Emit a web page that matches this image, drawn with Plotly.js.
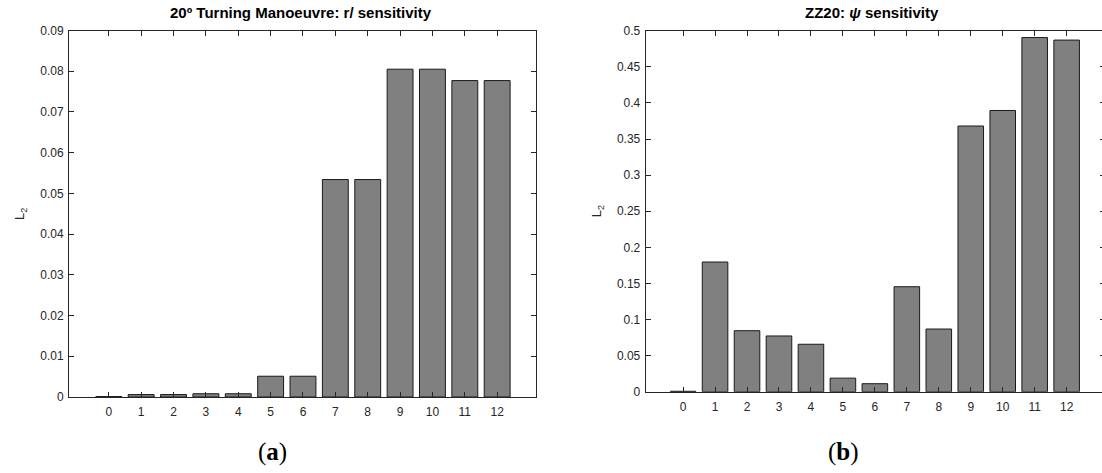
<!DOCTYPE html>
<html>
<head>
<meta charset="utf-8">
<script src="https://cdn.plot.ly/plotly-3.0.1.min.js"></script>
<style>
html,body{margin:0;padding:0;overflow:hidden;background:#fff;width:1102px;height:473px;}
#chart{width:1106px;height:473px;}
</style>
</head>
<body>
<div id="chart"></div>
<script>
// Data
const categories = [0,1,2,3,4,5,6,7,8,9,10,11,12];
const tickLabels = ['0','1','2','3','4','5','6','7','8','9','10','11','12'];
const turningValues = [0.0001,0.0006,0.0006,0.0008,0.0008,0.0051,0.0051,0.0534,0.0534,0.0805,0.0805,0.0777,0.0777];
const zigzagValues = [0.0006,0.1796,0.0845,0.0772,0.0657,0.0188,0.0111,0.1454,0.0868,0.368,0.3895,0.4905,0.487];
const titleA = '20º Turning Manoeuvre: r/ sensitivity';
const titleB = 'ZZ20: <i>ψ</i> sensitivity';
const yTitle = 'L<sub>2</sub>';

const W = 1106, H = 473;
const fx = px => px / W;
const fy = py => (H - py) / H;

const axisColor = '#262626';
const sans = 'Liberation Sans, Arial, sans-serif';
const tickFont = {family: sans, size: 12, color: '#262626'};

const barStyle = {
  type: 'bar',
  width: 0.8,
  marker: {color: '#808080', line: {color: '#1a1a1a', width: 1}},
  hoverinfo: 'x+y'
};

const traces = [
  Object.assign({}, barStyle, {x: categories, y: turningValues, xaxis: 'x', yaxis: 'y', name: 'a'}),
  Object.assign({}, barStyle, {x: categories, y: zigzagValues, xaxis: 'x2', yaxis: 'y2', name: 'b'})
];

function xAxis(domain, range, anchor) {
  return {
    domain: domain, range: range, anchor: anchor,
    tickmode: 'array', tickvals: categories, ticktext: tickLabels,
    ticks: 'inside', ticklen: 5, tickcolor: axisColor, tickwidth: 1,
    ticklabelstandoff: 4,
    showline: true, linecolor: axisColor, linewidth: 1, mirror: 'ticks',
    showgrid: false, zeroline: false, tickfont: tickFont, fixedrange: true
  };
}
function yAxis(domain, range, dtick, anchor, standoff) {
  return {
    domain: domain, range: range, anchor: anchor, dtick: dtick, tick0: 0,
    ticks: 'inside', ticklen: 5, tickcolor: axisColor, tickwidth: 1,
    ticklabelstandoff: 2,
    showline: true, linecolor: axisColor, linewidth: 1, mirror: 'ticks',
    showgrid: false, zeroline: false, tickfont: tickFont, fixedrange: true,
    title: {text: yTitle, font: {family: sans, size: 13, color: '#262626'}, standoff: standoff}
  };
}

const layout = {
  width: W, height: H,
  margin: {l: 0, r: 0, t: 0, b: 0},
  paper_bgcolor: '#fff', plot_bgcolor: '#fff',
  showlegend: false,
  xaxis: xAxis([fx(69), fx(536)], [-1.23, 13.2], 'y'),
  yaxis: yAxis([fy(397), fy(30.5)], [0, 0.09], 0.01, 'x', 12),
  xaxis2: xAxis([fx(645.7), fx(1105)], [-1.17, 13.2], 'y2'),
  yaxis2: yAxis([fy(391.7), fy(30.7)], [0, 0.5], 0.05, 'x2', 12),
  annotations: [
    {text: '<b>' + titleA + '</b>', xref: 'paper', yref: 'paper', x: fx(301), y: fy(13), xanchor: 'center', yanchor: 'middle', showarrow: false,
     font: {family: sans, size: 15, color: '#000'}},
    {text: '<b>' + titleB + '</b>', xref: 'paper', yref: 'paper', x: fx(872), y: fy(13), xanchor: 'center', yanchor: 'middle', showarrow: false,
     font: {family: sans, size: 15, color: '#000'}},
    {text: '(<b>a</b>)', xref: 'paper', yref: 'paper', x: fx(272), y: fy(452), xanchor: 'center', yanchor: 'middle', showarrow: false,
     font: {family: 'Liberation Serif, DejaVu Serif, serif', size: 25, color: '#000'}},
    {text: '(<b>b</b>)', xref: 'paper', yref: 'paper', x: fx(843), y: fy(452), xanchor: 'center', yanchor: 'middle', showarrow: false,
     font: {family: 'Liberation Serif, DejaVu Serif, serif', size: 25, color: '#000'}}
  ]
};

Plotly.newPlot('chart', traces, layout, {displayModeBar: false, staticPlot: true});
</script>
</body>
</html>
